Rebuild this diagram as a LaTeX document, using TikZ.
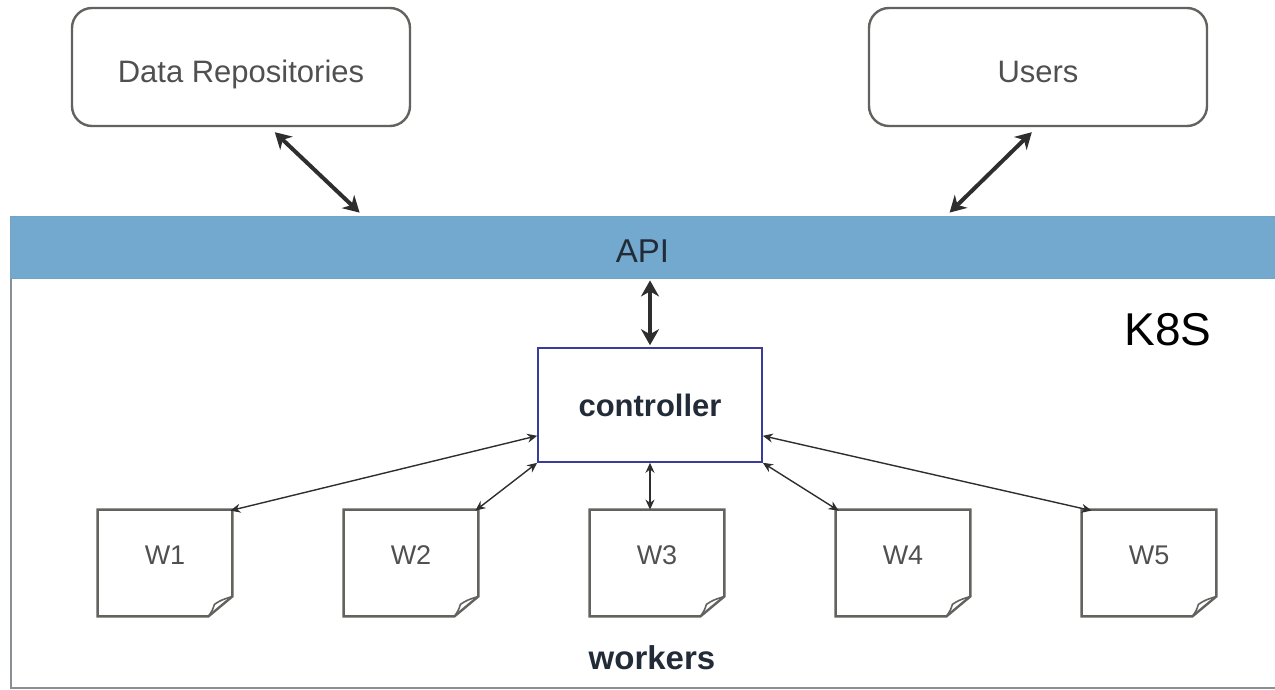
\documentclass[tikz,border=0pt]{standalone}
\usepackage{fontspec}
\setmainfont{Liberation Sans}
\usetikzlibrary{arrows.meta,calc}

\definecolor{apiblue}{HTML}{74A9CF}
\definecolor{boxgray}{HTML}{62625E}
\definecolor{labelgray}{HTML}{505050}
\definecolor{framegray}{HTML}{8A8F96}
\definecolor{ctrlblue}{HTML}{3B3B98}
\definecolor{inkdark}{HTML}{222B38}
\definecolor{arrowdark}{HTML}{2E2E2E}

% text whose cap height is centred on the node centre, then moved down by #1
\newcommand{\shiftedtext}[2]{\smash{\raisebox{\dimexpr-0.36em-#1\relax}{#2}}}

\tikzset{
  topbox/.style={draw=boxgray, line width=1.2pt, rounded corners=10pt,
    minimum width=169pt, minimum height=59pt, text=labelgray,
    font=\fontsize{15.5}{18}\selectfont},
  band/.style={fill=apiblue, draw=apiblue!85!gray, line width=0.4pt,
    minimum width=632.5pt, minimum height=31pt, inner sep=0pt,
    text=inkdark, font=\fontsize{16.5}{19}\selectfont},
  ctrlbox/.style={draw=ctrlblue, line width=0.8pt, minimum width=112pt,
    minimum height=57pt, text=inkdark,
    font=\bfseries\fontsize{15.5}{18}\selectfont},
  docbox/.style={minimum width=67pt, minimum height=53pt, inner sep=0pt,
    text=labelgray, font=\fontsize{13.5}{16}\selectfont},
  docline/.style={draw=boxgray, line width=1.2pt, line join=miter},
  bigarrow/.style={draw=arrowdark, line width=2pt,
    {Stealth[length=8pt,width=9pt,inset=2.5pt]}-{Stealth[length=8pt,width=9pt,inset=2.5pt]}},
  smallarrow/.style={draw=arrowdark, line width=0.7pt,
    {Stealth[length=5pt,width=4.5pt]}-{Stealth[length=5pt,width=4.5pt]}},
}

\begin{document}
\begin{tikzpicture}[x=0.5pt, y=-0.5pt]
\useasboundingbox (0,0) rectangle (1275,690);

% outside actors
\node[topbox] (repo)  at (241,67)  {\shiftedtext{2pt}{Data Repositories}};
\node[topbox] (users) at (1038,67) {\shiftedtext{2pt}{Users}};

% cluster frame with the API band on top
\draw[framegray, line width=1pt] (11,278) -- (11,688) -- (1275,688);
\node[band] (api) at (642.5,247) {\shiftedtext{2pt}{API}};
\node[font=\fontsize{23}{27}\selectfont, text=black] (k8s) at (1168,330) {K8S};

% controller
\node[ctrlbox] (controller) at (650,405) {controller};

% workers
\foreach \i/\x in {1/165, 2/411, 3/657, 4/903, 5/1149} {
  \node[docbox] (w\i) at (\x,563) {\shiftedtext{-4pt}{W\i}};
  \draw[docline] (w\i.north west) -- (w\i.north east)
    -- ([yshift=10pt]w\i.south east) -- ([xshift=-12pt]w\i.south east)
    -- (w\i.south west) -- cycle;
  \draw[boxgray, line width=0.8pt] ([yshift=10pt]w\i.south east)
    .. controls ([xshift=-6pt,yshift=8pt]w\i.south east) .. ([xshift=-9pt,yshift=6pt]w\i.south east)
    .. controls ([xshift=-10pt,yshift=3pt]w\i.south east) .. ([xshift=-12pt]w\i.south east);
}
\node[font=\bfseries\fontsize{16.5}{19}\selectfont, text=inkdark] (workers) at (652,658) {workers};

% connections to the API
\draw[bigarrow] ($(repo.south west)+(204,5)$) -- ($(api.north west)+(350,-3)$);
\draw[bigarrow] ($(users.south west)+(164,5)$) -- ($(api.north west)+(940,-3)$);
\draw[bigarrow] ([yshift=-1pt]controller.north |- api.south) -- ([yshift=1pt]controller.north);

% controller to workers
\draw[smallarrow] ($(controller.south west)+(0,-27)$) -- ($(w1.north east)+(-2,1)$);
\draw[smallarrow] (controller.south west) -- ($(w2.north east)+(-3,1)$);
\draw[smallarrow] (controller.south) -- (controller.south |- w3.north);
\draw[smallarrow] (controller.south east) -- ($(w4.north west)+(3,1)$);
\draw[smallarrow] ($(controller.south east)+(0,-27)$) -- ($(w5.north west)+(10,1)$);
\end{tikzpicture}
\end{document}
